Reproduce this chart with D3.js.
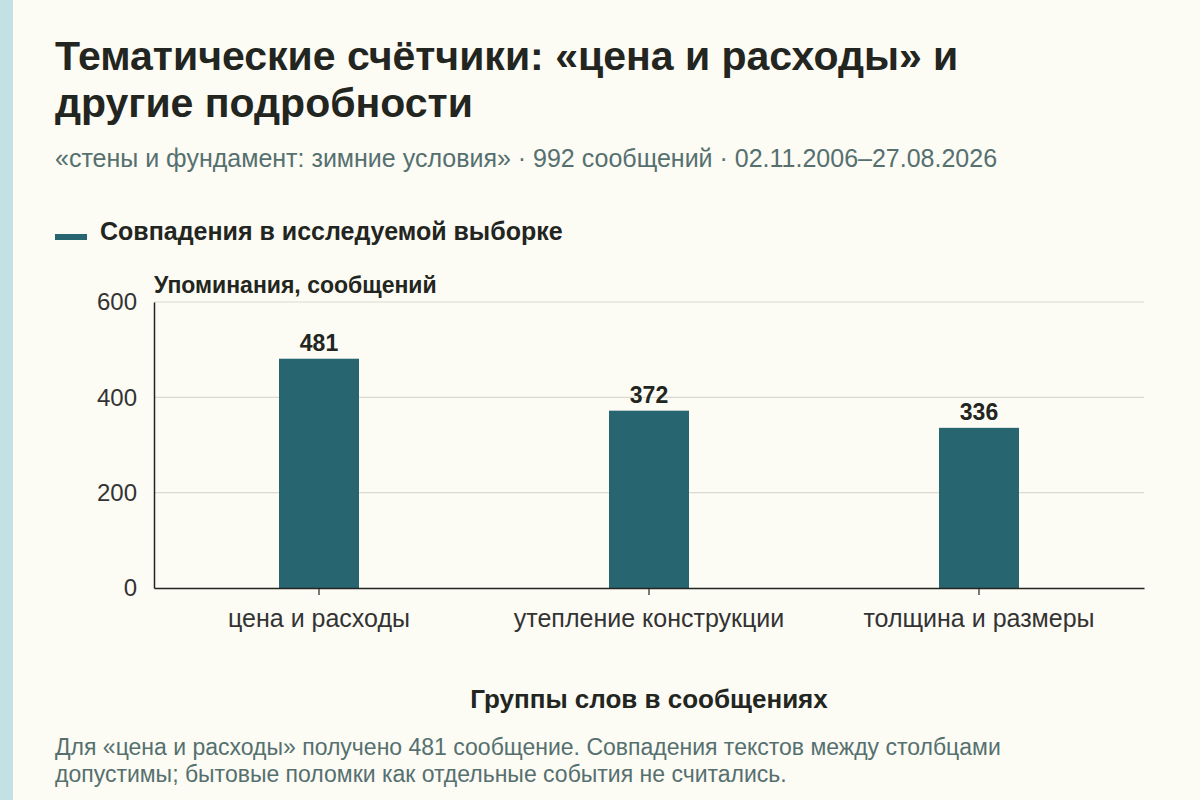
<!DOCTYPE html>
<html>
<head>
<meta charset="utf-8">
<script src="https://cdn.jsdelivr.net/npm/d3@7"></script>
<style>
  body { margin: 0; background: #fcfbf4; }
  svg { display: block; font-family: "Liberation Sans", Arial, sans-serif; }
</style>
</head>
<body>
<svg id="chart"></svg>
<script>
const categories = ["цена и расходы", "утепление конструкции", "толщина и размеры"];
const values = [481, 372, 336];
const yTicks = [0, 200, 400, 600];

const width = 1200, height = 800;
const svg = d3.select("#chart").attr("width", width).attr("height", height);

svg.append("rect").attr("width", width).attr("height", height).attr("fill", "#fcfbf4");
svg.append("rect").attr("width", 13).attr("height", height).attr("fill", "#c3e0e3");

const margin = { left: 154, right: 56, top: 302, bottom: 212 };
const x = d3.scaleBand().domain(categories).range([margin.left, width - margin.right]).padding(0);
const y = d3.scaleLinear().domain([0, 600]).range([height - margin.bottom, margin.top]);
const barW = 80;

// titles
svg.append("text").attr("x", 55).attr("y", 70)
  .attr("font-size", 41).attr("font-weight", "bold").attr("fill", "#222520")
  .text("Тематические счётчики: «цена и расходы» и");
svg.append("text").attr("x", 55).attr("y", 117)
  .attr("font-size", 41).attr("font-weight", "bold").attr("fill", "#222520")
  .text("другие подробности");
svg.append("text").attr("x", 55).attr("y", 167)
  .attr("font-size", 25).attr("fill", "#55706f")
  .text("«стены и фундамент: зимние условия» · 992 сообщений · 02.11.2006–27.08.2026");

// legend
svg.append("rect").attr("x", 55).attr("y", 234).attr("width", 32).attr("height", 6).attr("fill", "#276570");
svg.append("text").attr("x", 100).attr("y", 240)
  .attr("font-size", 25).attr("font-weight", "bold").attr("fill", "#222520")
  .text("Совпадения в исследуемой выборке");

// gridlines
svg.append("g").selectAll("line").data(yTicks.filter(d => d > 0)).join("line")
  .attr("x1", margin.left).attr("x2", width - margin.right)
  .attr("y1", d => y(d)).attr("y2", d => y(d))
  .attr("stroke", "#dcd9d0").attr("stroke-width", 1.2);

// y axis
const yAxis = svg.append("g").attr("transform", `translate(${margin.left},0)`)
  .call(d3.axisLeft(y).tickValues(yTicks).tickSize(0).tickPadding(17));
yAxis.select(".domain").attr("stroke", "#222520").attr("stroke-width", 1.5);
yAxis.selectAll("text").attr("font-size", 24).attr("fill", "#333").attr("font-family", "Liberation Sans, Arial, sans-serif");

svg.append("text").attr("x", margin.left).attr("y", 293)
  .attr("font-size", 23).attr("font-weight", "bold").attr("fill", "#222520")
  .text("Упоминания, сообщений");

// bars
svg.append("g").selectAll("rect").data(values).join("rect")
  .attr("x", (d, i) => x(categories[i]) + x.bandwidth() / 2 - barW / 2)
  .attr("width", barW)
  .attr("y", d => y(d))
  .attr("height", d => y(0) - y(d))
  .attr("fill", "#276570");

svg.append("g").selectAll("text").data(values).join("text")
  .attr("x", (d, i) => x(categories[i]) + x.bandwidth() / 2)
  .attr("y", d => y(d) - 8)
  .attr("text-anchor", "middle")
  .attr("font-size", 23).attr("font-weight", "bold").attr("fill", "#222520")
  .text(d => d);

// x axis
const xAxis = svg.append("g").attr("transform", `translate(0,${y(0)})`)
  .call(d3.axisBottom(x).tickSizeInner(7).tickSizeOuter(0).tickPadding(14));
xAxis.select(".domain").attr("stroke", "#222520").attr("stroke-width", 1.5);
xAxis.selectAll(".tick line").attr("stroke", "#222520").attr("stroke-width", 1.2);
xAxis.selectAll("text").attr("font-size", 25).attr("fill", "#333").attr("font-family", "Liberation Sans, Arial, sans-serif");

svg.append("text").attr("x", (margin.left + width - margin.right) / 2).attr("y", 708)
  .attr("text-anchor", "middle")
  .attr("font-size", 26).attr("font-weight", "bold").attr("fill", "#222520")
  .text("Группы слов в сообщениях");

// footnote
const notes = [
  "Для «цена и расходы» получено 481 сообщение. Совпадения текстов между столбцами",
  "допустимы; бытовые поломки как отдельные события не считались."
];
svg.append("g").selectAll("text").data(notes).join("text")
  .attr("x", 55).attr("y", (d, i) => 755 + i * 27)
  .attr("font-size", 23).attr("fill", "#55706f")
  .text(d => d);
</script>
</body>
</html>
